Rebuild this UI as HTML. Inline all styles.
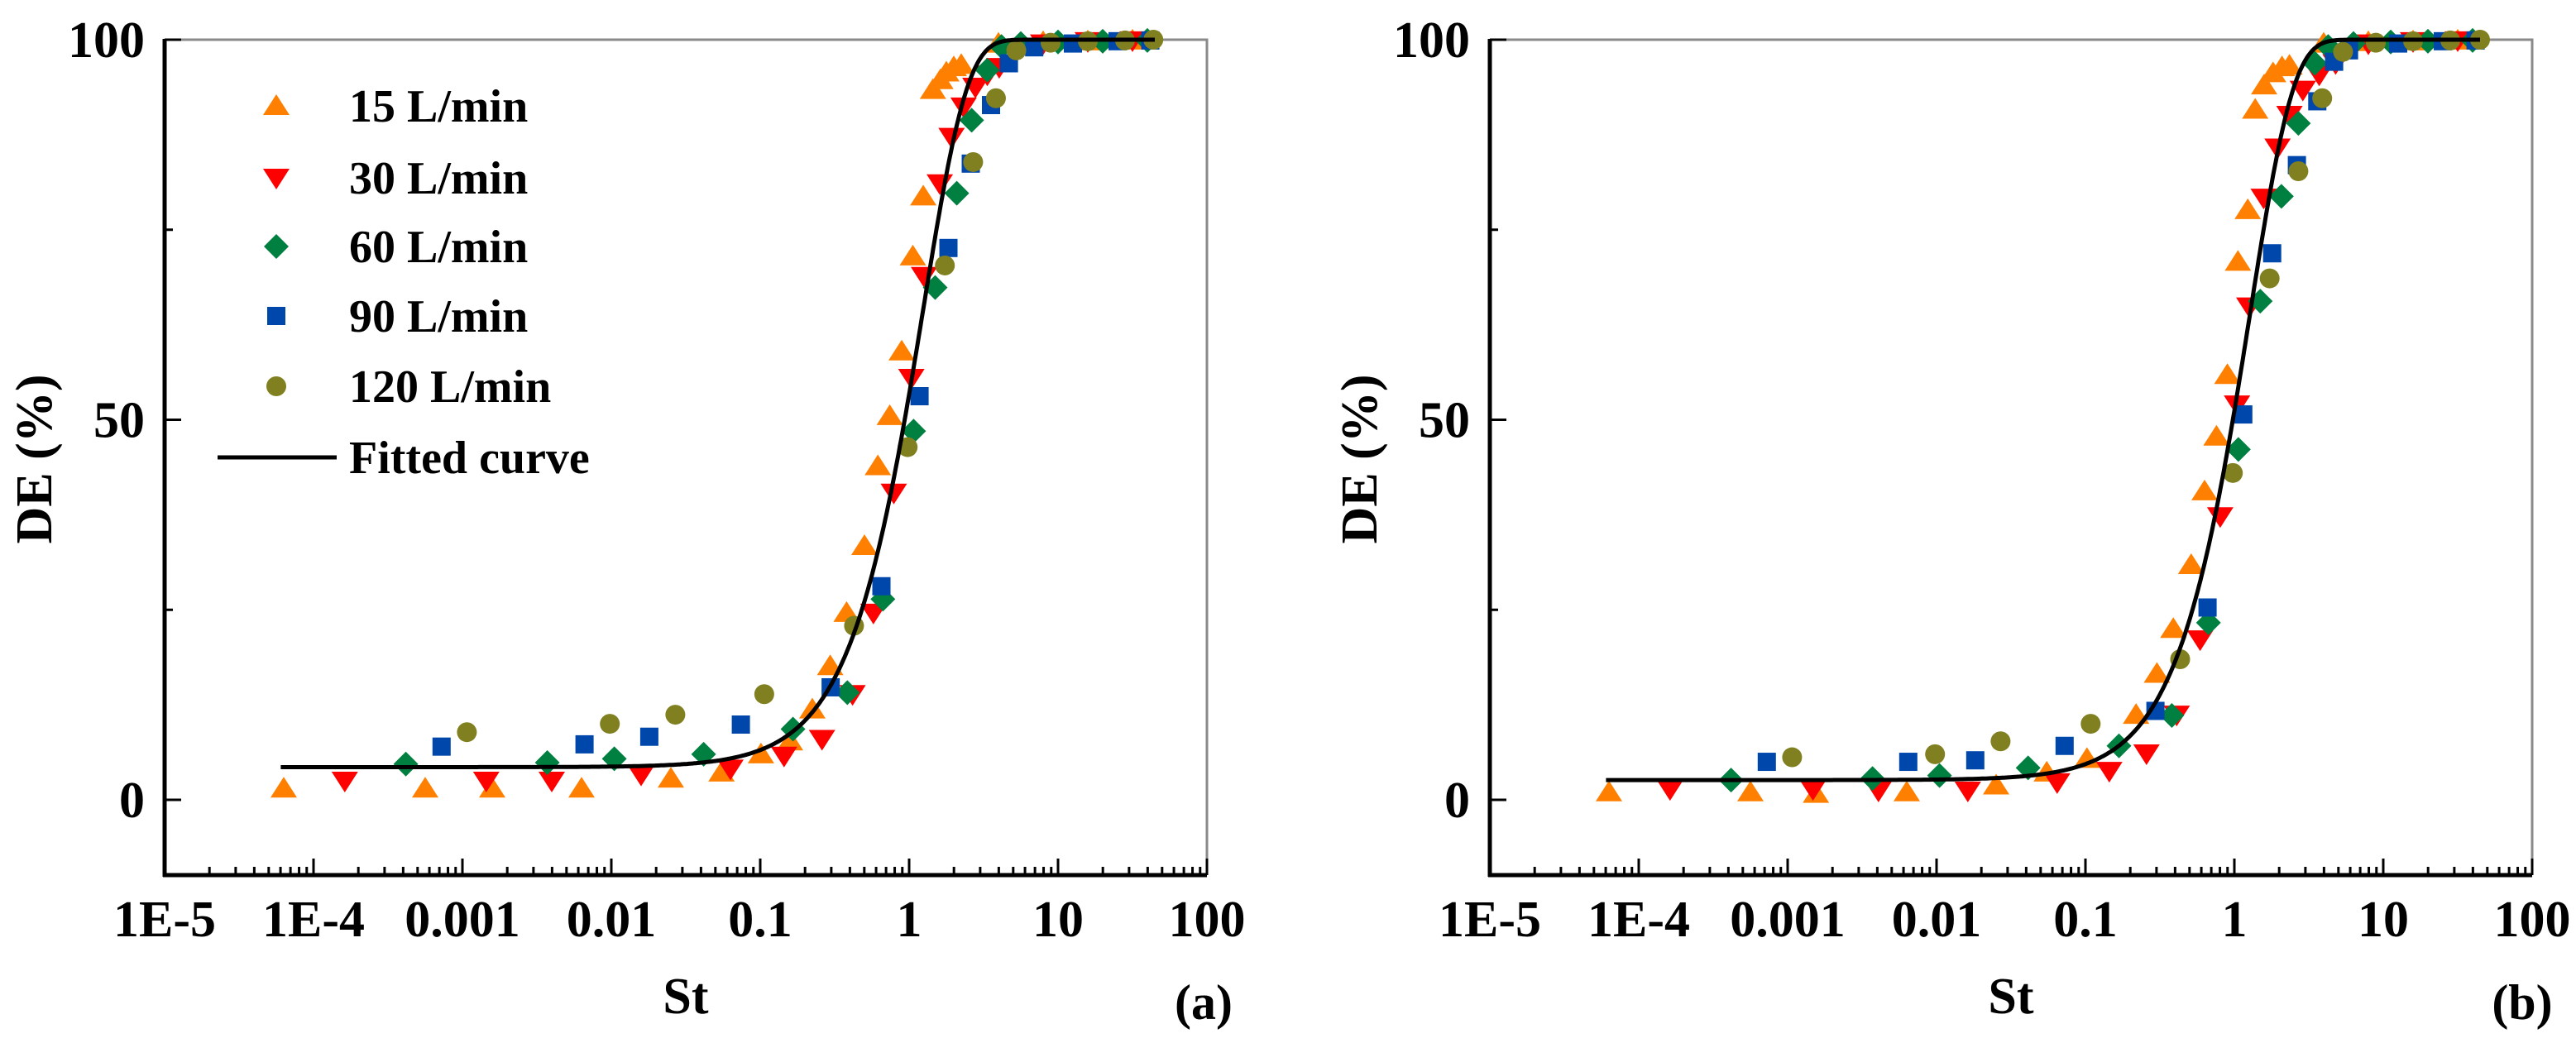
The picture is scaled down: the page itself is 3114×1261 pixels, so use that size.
<!DOCTYPE html>
<html><head><meta charset="utf-8"><style>
html,body{margin:0;padding:0;background:#fff;}
svg{display:block;}
text{font-family:"Liberation Serif","DejaVu Serif","Times New Roman",serif;font-weight:bold;}
</style></head><body>
<svg id="fig" width="3114" height="1261" viewBox="0 0 3114 1261" xmlns="http://www.w3.org/2000/svg"></svg>
<script>
// ---- data (log10 St, DE %) ----
const seriesNames = ["15 L/min","30 L/min","60 L/min","90 L/min","120 L/min"];
const xTickLabels = ["1E-5","1E-4","0.001","0.01","0.1","1","10","100"];
const yTickLabels = ["0","50","100"];
// panel a
const a15x = [-4.2,-3.25,-2.8,-2.2,-1.6,-1.26,-0.995,-0.8,-0.65,-0.53,-0.42,-0.3,-0.21,-0.13,-0.05,0.025,0.095,0.16,0.21,0.25,0.3,0.35,0.6,0.9,1.2,1.5];
const a15y = [1.5,1.5,1.5,1.5,2.8,3.6,6.0,7.7,11.9,17.6,24.6,33.4,43.9,50.5,59,71.5,79.4,93.4,94.7,95.7,96.4,96.7,99.5,99.7,99.8,99.9];
const a30x = [-3.79,-2.84,-2.4,-1.8,-1.2,-0.84,-0.585,-0.38,-0.24,-0.103,0.015,0.1,0.206,0.285,0.366,0.445,0.525,0.605,0.9,1.2,1.5];
const a30y = [2.5,2.5,2.5,3.3,4.1,5.8,8.0,13.9,24.6,40.4,55.5,68.9,81.1,87.2,91.2,93.8,95.4,96.4,99.5,99.8,99.9];
const a60x = [-3.38,-2.43,-1.98,-1.38,-0.78,-0.415,-0.176,0.03,0.175,0.32,0.42,0.525,0.62,0.75,1.0,1.3,1.6];
const a60y = [4.7,4.9,5.4,6.0,9.3,14.1,26.4,48.5,67.4,79.8,89.4,96.0,99.1,99.5,99.7,99.8,99.9];
const a90x = [-3.14,-2.18,-1.745,-1.13,-0.527,-0.186,0.07,0.264,0.414,0.55,0.67,0.84,1.1,1.4,1.62];
const a90y = [7,7.3,8.3,9.9,14.8,28.1,53.1,72.6,83.7,91.4,96.9,99,99.5,99.8,99.9];
const a120x = [-2.97,-2.01,-1.57,-0.973,-0.37,-0.01,0.24,0.43,0.583,0.72,0.95,1.2,1.45,1.64];
const a120y = [8.9,10,11.2,13.9,22.9,46.4,70.3,83.9,92.3,98.6,99.6,99.8,99.9,100];
// panel b
const b15x = [-4.2,-3.25,-2.81,-2.2,-1.6,-1.26,-0.99,-0.66,-0.52,-0.41,-0.29,-0.2,-0.12,-0.047,0.024,0.09,0.14,0.2,0.26,0.32,0.37,0.6,0.9,1.2,1.5];
const b15y = [1.0,1.0,0.8,1.0,1.9,3.6,5.4,11.2,16.6,22.5,30.9,40.6,47.8,55.9,70.8,77.6,90.8,94,95.6,96.4,96.6,99.5,99.7,99.8,99.9];
const b30x = [-3.79,-2.83,-2.39,-1.79,-1.19,-0.84,-0.59,-0.387,-0.23,-0.095,0.018,0.1,0.197,0.29,0.37,0.46,0.57,0.68,0.9,1.2,1.5];
const b30y = [1.4,1.4,1.2,1.2,2.3,3.8,6.1,11.2,21.1,37.3,52,64.9,79.2,85.8,90.1,93.4,95.4,96.9,99.5,99.8,99.9];
const b60x = [-3.38,-2.43,-1.98,-1.385,-0.775,-0.42,-0.174,0.027,0.174,0.316,0.43,0.54,0.63,0.8,1.05,1.3,1.6];
const b60y = [2.6,2.8,3.2,4.2,7.1,11.1,23.3,46.1,65.6,79.4,89,96.9,99.1,99.5,99.7,99.8,99.9];
const b90x = [-3.14,-2.19,-1.74,-1.14,-0.53,-0.18,0.06,0.254,0.42,0.557,0.67,0.77,1.1,1.4,1.62];
const b90y = [5.0,5.0,5.2,7.1,11.7,25.3,50.7,71.9,83.5,91.9,97.1,98.6,99.5,99.8,99.9];
const b120x = [-2.97,-2.01,-1.57,-0.965,-0.364,-0.01,0.237,0.43,0.59,0.73,0.95,1.2,1.45,1.65];
const b120y = [5.6,6.0,7.7,10,18.5,43,68.6,82.7,92.3,98.4,99.6,99.8,99.9,100];
// fitted curve parameters: DE = base + (100-base)*(1-exp(-(St/s)^k))
const fitA = [4.3, 1.25, 1.48];
const fitB = [2.6, 1.28, 1.5];
const fitRange = [-4.22, 1.65];

const colors = ["#FF8000","#FF0000","#008040","#0047AB","#808020"];
const shapes = ["tri","tridown","diamond","square","circle"];
const NS = "http://www.w3.org/2000/svg";
const FONT = '"Liberation Serif", "DejaVu Serif", serif';
const svg = document.getElementById("fig");
function mk(tag, attrs, parent){const e=document.createElementNS(NS,tag);for(const k in attrs)e.setAttribute(k,attrs[k]);if(tag==="text"){e.setAttribute("font-family",FONT);e.setAttribute("font-weight","bold");}(parent||svg).appendChild(e);return e;}

function drawPanel(p){
  const L=p.left, R=p.left+1260, T=48, B=1058;
  const xs = v => L + (v+5)*180;
  const ys = v => 967 - v*9.19;
  const g = mk("g",{});
  
  
  const fr = mk("path",{d:`M${L} ${T} L${R} ${T} L${R} ${B}`,fill:"none",stroke:"#8a8a8a","stroke-width":3},g);
  
  
  const ya = mk("line",{x1:L,y1:T-1,x2:L,y2:B+2,stroke:"#000","stroke-width":5},g);
  
  
  const xa = mk("line",{x1:L-2,y1:B,x2:R,y2:B,stroke:"#000","stroke-width":5},g);
  
  
  [0,25,50,75,100].forEach(v=>{
    const major = v%50===0;
    mk("line",{x1:L,y1:ys(v),x2:L+(major?20:10),y2:ys(v),stroke:"#000","stroke-width":3},g);
  });
  yTickLabels.forEach((t,i)=>{
    const v=[0,50,100][i];
    const tx = mk("text",{x:L-24,y:ys(v)+21,"text-anchor":"end","font-size":62},g);
    tx.textContent=t;
    
    
  });
  for(let d=-5; d<=2; d++){
    mk("line",{x1:xs(d),y1:B,x2:xs(d),y2:B-20,stroke:"#000","stroke-width":3},g);
    if(d<2) for(let m=2;m<=9;m++){
      const x=xs(d+Math.log10(m));
      mk("line",{x1:x,y1:B,x2:x,y2:B-10,stroke:"#000","stroke-width":3},g);
    }
  }
  xTickLabels.forEach((t,i)=>{
    const tx = mk("text",{x:xs(i-5),y:1132,"text-anchor":"middle","font-size":62},g);
    tx.textContent=t;
    
    
  });
  const xt = mk("text",{x:(L+R)/2,y:1225,"text-anchor":"middle","font-size":62},g);
  xt.textContent="St";
  
  
  const ytl = mk("text",{x:0,y:0,"text-anchor":"middle","font-size":62,transform:`translate(${L-137} 555) rotate(-90)`},g);
  ytl.textContent="DE (%)";
  
  
  const pl = mk("text",{x:p.labelX,y:1232,"text-anchor":"middle","font-size":60},g);
  pl.textContent=p.label;
  
  
  p.series.forEach((s,si)=>{
    s[0].forEach((lx,j)=>{
      const m = marker(shapes[si], xs(lx), ys(s[1][j]), colors[si], g);
      
      
    });
  });
  const f=p.fit; let d="";
  for(let i=0;i<=600;i++){
    const lx=fitRange[0]+(fitRange[1]-fitRange[0])*i/600;
    const st=Math.pow(10,lx);
    const de=f[0]+(100-f[0])*(1-Math.exp(-Math.pow(st/f[1],f[2])));
    d+=(i?"L":"M")+xs(lx).toFixed(1)+" "+ys(de).toFixed(1);
  }
  const c = mk("path",{d:d,fill:"none",stroke:"#000","stroke-width":5},g);
  
  
}
function marker(sh,x,y,col,g){
  if(sh==="tri") return mk("polygon",{points:`${x-16},${y+11} ${x+16},${y+11} ${x},${y-14}`,fill:col},g);
  if(sh==="tridown") return mk("polygon",{points:`${x-16},${y-11} ${x+16},${y-11} ${x},${y+14}`,fill:col},g);
  if(sh==="diamond") return mk("polygon",{points:`${x-15},${y} ${x},${y-15} ${x+15},${y} ${x},${y+15}`,fill:col},g);
  if(sh==="square") return mk("rect",{x:x-11,y:y-11,width:22,height:22,fill:col},g);
  return mk("ellipse",{cx:x,cy:y,rx:12,ry:12,fill:col},g);
}
drawPanel({name:"panel-a",left:199,label:"(a)",labelX:1455,fit:fitA,
  series:[[a15x,a15y],[a30x,a30y],[a60x,a60y],[a90x,a90y],[a120x,a120y]]});
drawPanel({name:"panel-b",left:1801,label:"(b)",labelX:3049,fit:fitB,
  series:[[b15x,b15y],[b30x,b30y],[b60x,b60y],[b90x,b90y],[b120x,b120y]]});
const lg = mk("g",{});


const rowsY=[128,215,298,382,467];
seriesNames.forEach((n,i)=>{
  const m=marker(shapes[i],334,rowsY[i],colors[i],lg);
  
  
  const t=mk("text",{x:422,y:rowsY[i]+19,"font-size":56},lg);
  t.textContent=n;
  
  
});
const ll=mk("line",{x1:263,y1:553,x2:407,y2:553,stroke:"#000","stroke-width":5},lg);


const lt=mk("text",{x:422,y:572,"font-size":56},lg);
lt.textContent="Fitted curve";


</script>
</body></html>
